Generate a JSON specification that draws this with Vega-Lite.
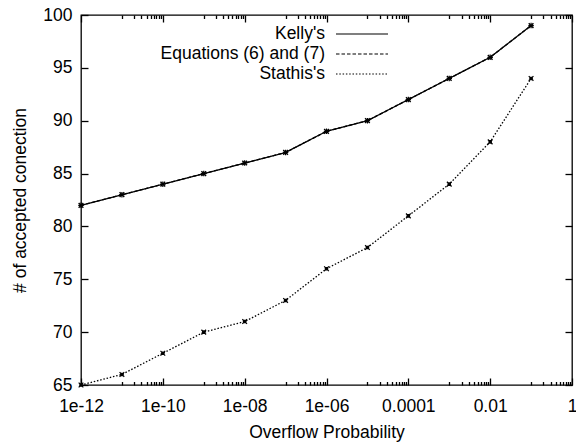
{
  "$schema": "https://vega.github.io/schema/vega-lite/v6.json",
  "width": 491,
  "height": 370,
  "autosize": {"type": "none"},
  "padding": {"left": 81, "top": 15, "right": 4, "bottom": 63},
  "config": {
    "font": "Liberation Sans",
    "view": {"stroke": "black", "strokeWidth": 1.3},
    "axis": {
      "domain": false,
      "ticks": true,
      "zindex": 1,
      "tickColor": "#000000",
      "tickOpacity": 1,
      "labelColor": "black",
      "titleColor": "black",
      "labelFontSize": 17.5,
      "titleFontSize": 17.5,
      "titleFontWeight": "normal",
      "grid": false,
      "tickWidth": 1.3,
      "labelFlush": false,
      "labelOverlap": false
    }
  },
  "resolve": {"axis": {"x": "independent", "y": "independent"}},
  "data": {
    "values": [
      {"p": 1e-12, "n": 82, "series": "Kelly's"},
      {"p": 1e-11, "n": 83, "series": "Kelly's"},
      {"p": 1e-10, "n": 84, "series": "Kelly's"},
      {"p": 1e-9, "n": 85, "series": "Kelly's"},
      {"p": 1e-8, "n": 86, "series": "Kelly's"},
      {"p": 1e-7, "n": 87, "series": "Kelly's"},
      {"p": 1e-6, "n": 89, "series": "Kelly's"},
      {"p": 1e-5, "n": 90, "series": "Kelly's"},
      {"p": 1e-4, "n": 92, "series": "Kelly's"},
      {"p": 1e-3, "n": 94, "series": "Kelly's"},
      {"p": 1e-2, "n": 96, "series": "Kelly's"},
      {"p": 1e-1, "n": 99, "series": "Kelly's"},
      {"p": 1e-12, "n": 82, "series": "Equations (6) and (7)"},
      {"p": 1e-11, "n": 83, "series": "Equations (6) and (7)"},
      {"p": 1e-10, "n": 84, "series": "Equations (6) and (7)"},
      {"p": 1e-9, "n": 85, "series": "Equations (6) and (7)"},
      {"p": 1e-8, "n": 86, "series": "Equations (6) and (7)"},
      {"p": 1e-7, "n": 87, "series": "Equations (6) and (7)"},
      {"p": 1e-6, "n": 89, "series": "Equations (6) and (7)"},
      {"p": 1e-5, "n": 90, "series": "Equations (6) and (7)"},
      {"p": 1e-4, "n": 92, "series": "Equations (6) and (7)"},
      {"p": 1e-3, "n": 94, "series": "Equations (6) and (7)"},
      {"p": 1e-2, "n": 96, "series": "Equations (6) and (7)"},
      {"p": 1e-1, "n": 99, "series": "Equations (6) and (7)"},
      {"p": 1e-12, "n": 65, "series": "Stathis's"},
      {"p": 1e-11, "n": 66, "series": "Stathis's"},
      {"p": 1e-10, "n": 68, "series": "Stathis's"},
      {"p": 1e-9, "n": 70, "series": "Stathis's"},
      {"p": 1e-8, "n": 71, "series": "Stathis's"},
      {"p": 1e-7, "n": 73, "series": "Stathis's"},
      {"p": 1e-6, "n": 76, "series": "Stathis's"},
      {"p": 1e-5, "n": 78, "series": "Stathis's"},
      {"p": 1e-4, "n": 81, "series": "Stathis's"},
      {"p": 1e-3, "n": 84, "series": "Stathis's"},
      {"p": 1e-2, "n": 88, "series": "Stathis's"},
      {"p": 1e-1, "n": 94, "series": "Stathis's"}
    ]
  },
  "layer": [
    {
      "mark": {"type": "line", "color": "black", "strokeWidth": 1.3},
      "encoding": {
        "x": {
          "field": "p", "type": "quantitative",
          "scale": {"type": "log", "domain": [1e-12, 1], "nice": false},
          "axis": {
            "title": "Overflow Probability",
            "values": [1e-12, 1e-10, 1e-8, 1e-6, 1e-4, 1e-2, 1],
            "tickSize": 7,
            "offset": -7,
            "labelExpr": "abs(log(datum.value)/LN10 + 12) < 0.01 ? '1e-12' : abs(log(datum.value)/LN10 + 10) < 0.01 ? '1e-10' : abs(log(datum.value)/LN10 + 8) < 0.01 ? '1e-08' : abs(log(datum.value)/LN10 + 6) < 0.01 ? '1e-06' : abs(log(datum.value)/LN10 + 4) < 0.01 ? '0.0001' : abs(log(datum.value)/LN10 + 2) < 0.01 ? '0.01' : '1'",
            "labelPadding": 12,
            "titlePadding": 9
          }
        },
        "y": {
          "field": "n", "type": "quantitative",
          "scale": {"domain": [65, 100], "nice": false, "zero": false},
          "axis": {"title": "# of accepted conection", "values": [65, 70, 75, 80, 85, 90, 95, 100], "tickSize": 7, "offset": -7, "labelPadding": 9, "titlePadding": 13}
        },
        "detail": {"field": "series"},
        "strokeDash": {
          "field": "series", "type": "nominal",
          "sort": ["Kelly's", "Equations (6) and (7)", "Stathis's"],
          "scale": {"domain": ["Kelly's", "Equations (6) and (7)", "Stathis's"], "range": [[1, 0], [3.5, 2], [1.5, 1.8]]},
          "legend": {
            "title": null,
            "orient": "none",
            "legendX": 270,
            "legendY": 8,
            "symbolSize": 400,
            "symbolType": "M-2.6,0H2.6",
            "symbolStrokeColor": "black",
            "symbolStrokeWidth": 1.1,
            "symbolFillColor": "transparent",
            "labelAlign": "right",
            "labelOffset": -48,
            "labelFontSize": 17.5,
            "labelColor": "black",
            "rowPadding": -1,
            "padding": 0,
            "labelLimit": 300
          }
        }
      }
    },
    {
      "transform": [{"filter": "datum.series === \"Kelly's\""}],
      "mark": {"type": "point", "color": "black", "filled": false, "strokeWidth": 1.2, "size": 30, "opacity": 1, "shape": "M-1,0H1M0,-1V1"},
      "encoding": {
        "x": {"field": "p", "type": "quantitative", "axis": {"orient": "top", "title": null, "labels": false, "values": [1e-12, 1e-10, 1e-8, 1e-6, 1e-4, 1e-2, 1], "tickSize": 7, "offset": -7}},
        "y": {"field": "n", "type": "quantitative", "axis": {"orient": "right", "title": null, "labels": false, "values": [65, 70, 75, 80, 85, 90, 95, 100], "tickSize": 7, "offset": -7}}
      }
    },
    {
      "transform": [{"filter": "datum.series === 'Equations (6) and (7)'"}],
      "mark": {"type": "point", "color": "black", "filled": false, "strokeWidth": 1.4, "size": 22, "opacity": 1, "shape": "M-1,-1L1,1M-1,1L1,-1"},
      "encoding": {
        "x": {"field": "p", "type": "quantitative", "axis": {"orient": "bottom", "title": null, "labels": false, "tickSize": 3.5, "offset": -3.5,
            "values": [1e-11, 2e-11, 3e-11, 4e-11, 5e-11, 6e-11, 7e-11, 8e-11, 9e-11,
                       1e-9, 2e-9, 3e-9, 4e-9, 5e-9, 6e-9, 7e-9, 8e-9, 9e-9,
                       1e-7, 2e-7, 3e-7, 4e-7, 5e-7, 6e-7, 7e-7, 8e-7, 9e-7,
                       1e-5, 2e-5, 3e-5, 4e-5, 5e-5, 6e-5, 7e-5, 8e-5, 9e-5,
                       1e-3, 2e-3, 3e-3, 4e-3, 5e-3, 6e-3, 7e-3, 8e-3, 9e-3,
                       1e-1, 0.2, 0.3, 0.4, 0.5, 0.6, 0.7, 0.8, 0.9]}},
        "y": {"field": "n", "type": "quantitative", "axis": null}
      }
    },
    {
      "transform": [{"filter": "datum.series === \"Stathis's\""}],
      "mark": {"type": "point", "color": "black", "fill": "black", "stroke": "black", "filled": true, "strokeWidth": 1.2, "size": 22, "opacity": 1, "shape": "M-1,-1L1,1M-1,1L1,-1M-0.5,-0.5H0.5V0.5H-0.5Z"},
      "encoding": {
        "x": {"field": "p", "type": "quantitative", "axis": {"orient": "top", "title": null, "labels": false, "tickSize": 3.5, "offset": -3.5,
            "values": [1e-11, 2e-11, 3e-11, 4e-11, 5e-11, 6e-11, 7e-11, 8e-11, 9e-11,
                       1e-9, 2e-9, 3e-9, 4e-9, 5e-9, 6e-9, 7e-9, 8e-9, 9e-9,
                       1e-7, 2e-7, 3e-7, 4e-7, 5e-7, 6e-7, 7e-7, 8e-7, 9e-7,
                       1e-5, 2e-5, 3e-5, 4e-5, 5e-5, 6e-5, 7e-5, 8e-5, 9e-5,
                       1e-3, 2e-3, 3e-3, 4e-3, 5e-3, 6e-3, 7e-3, 8e-3, 9e-3,
                       1e-1, 0.2, 0.3, 0.4, 0.5, 0.6, 0.7, 0.8, 0.9]}},
        "y": {"field": "n", "type": "quantitative", "axis": null}
      }
    }
  ]
}
